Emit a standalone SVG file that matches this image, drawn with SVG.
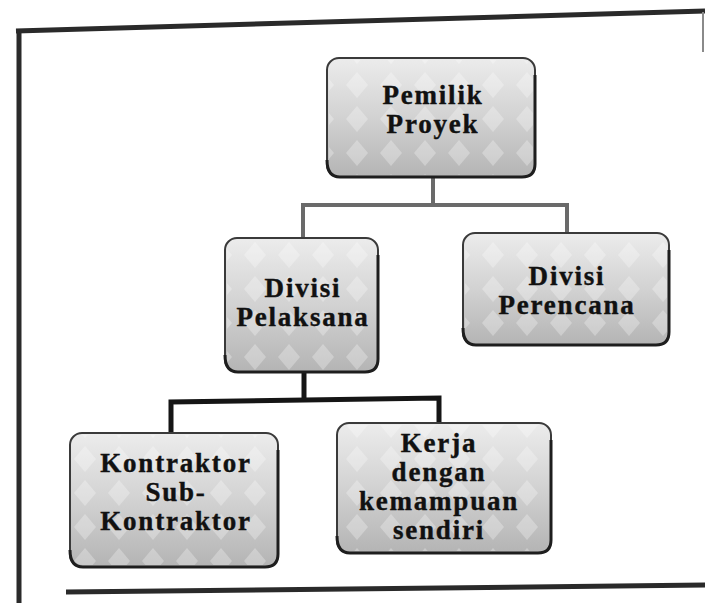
<svg xmlns="http://www.w3.org/2000/svg" width="705" height="603" viewBox="0 0 705 603">
  <defs>
    <linearGradient id="boxFill" x1="0" y1="0" x2="0" y2="1">
      <stop offset="0" stop-color="#ececec"/>
      <stop offset="0.5" stop-color="#d2d2d2"/>
      <stop offset="1" stop-color="#b4b4b4"/>
    </linearGradient>
    <pattern id="ornament" width="34" height="34" patternUnits="userSpaceOnUse">
      <path d="M17 4 L28 17 L17 30 L6 17 Z" fill="#ffffff" opacity="0.28"/>
    </pattern>
  </defs>
  <style>
    .frame { stroke: #2a2a2a; stroke-width: 5; fill: none; }
    .thin { stroke: #8a8a8a; stroke-width: 2; fill: none; }
    .box { fill: url(#boxFill); stroke: #3a3a3a; stroke-width: 2; }
    .shade { fill: none; stroke: #1e1e1e; stroke-width: 3; }
    .orn { fill: url(#ornament); }
    .lbl { font-family: "Liberation Serif", "Times New Roman", serif; font-weight: bold; font-size: 27px; fill: #111; stroke: #111; stroke-width: 0.4; text-anchor: middle; letter-spacing: 1.8px; }
    .link-top { stroke: #6a6a6a; stroke-width: 4; fill: none; }
    .link-low { stroke: #151515; stroke-width: 5; fill: none; }
  </style>

  <rect width="705" height="603" fill="#ffffff"/>

  <!-- outer frame -->
  <g id="frame">
    <line class="frame" x1="16" y1="31" x2="705" y2="11"/>
    <line class="frame" x1="19" y1="29" x2="19" y2="603"/>
    <line class="frame" x1="66" y1="592" x2="705" y2="585"/>
    <line class="thin" x1="703" y1="12" x2="703" y2="52"/>
  </g>

  <!-- connectors -->
  <g id="connectors">
    <polyline class="link-top" points="433,177 433,205"/>
    <polyline class="link-top" points="303,238 303,205 567,205 567,233"/>
    <polyline class="link-low" points="304,372 304,400"/>
    <polyline class="link-low" points="171,433 171,402 439,398 439,423"/>
  </g>

  <g id="node-pemilik">
    <rect class="box" x="327" y="58" width="208" height="119" rx="12"/>
    <rect class="orn" x="329" y="60" width="204" height="115" rx="11"/>
    <path class="shade" d="M327 160 Q327 177 340 177 L522 177 Q535 177 535 164 L535 75"/>
    <text class="lbl" x="433" y="104">Pemilik</text>
    <text class="lbl" x="433" y="133">Proyek</text>
  </g>

  <g id="node-pelaksana">
    <rect class="box" x="225" y="238" width="153" height="134" rx="12"/>
    <rect class="orn" x="227" y="240" width="149" height="130" rx="11"/>
    <path class="shade" d="M225 355 Q225 372 238 372 L365 372 Q378 372 378 359 L378 255"/>
    <text class="lbl" x="303" y="297">Divisi</text>
    <text class="lbl" x="303" y="326">Pelaksana</text>
  </g>

  <g id="node-perencana">
    <rect class="box" x="463" y="233" width="206" height="112" rx="12"/>
    <rect class="orn" x="465" y="235" width="202" height="108" rx="11"/>
    <path class="shade" d="M463 328 Q463 345 476 345 L656 345 Q669 345 669 332 L669 250"/>
    <text class="lbl" x="567" y="285">Divisi</text>
    <text class="lbl" x="567" y="314">Perencana</text>
  </g>

  <g id="node-kontraktor">
    <rect class="box" x="70" y="433" width="208" height="134" rx="12"/>
    <rect class="orn" x="72" y="435" width="204" height="130" rx="11"/>
    <path class="shade" d="M70 550 Q70 567 83 567 L265 567 Q278 567 278 554 L278 450"/>
    <text class="lbl" x="176" y="472">Kontraktor</text>
    <text class="lbl" x="176" y="501">Sub-</text>
    <text class="lbl" x="176" y="530">Kontraktor</text>
  </g>

  <g id="node-kerja">
    <rect class="box" x="337" y="423" width="214" height="130" rx="12"/>
    <rect class="orn" x="339" y="425" width="210" height="126" rx="11"/>
    <path class="shade" d="M337 536 Q337 553 350 553 L538 553 Q551 553 551 540 L551 440"/>
    <text class="lbl" x="439" y="452">Kerja</text>
    <text class="lbl" x="439" y="481">dengan</text>
    <text class="lbl" x="439" y="510">kemampuan</text>
    <text class="lbl" x="439" y="539">sendiri</text>
  </g>
</svg>
